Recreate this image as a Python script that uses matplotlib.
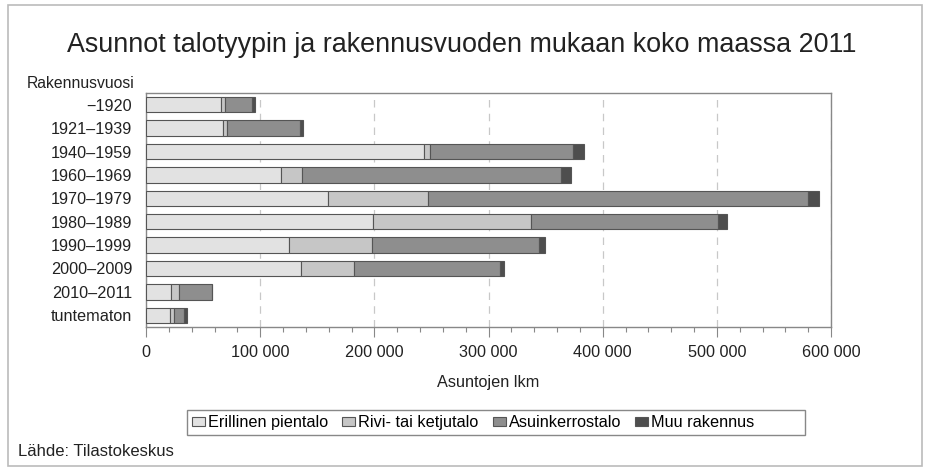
import matplotlib
matplotlib.use("Agg")
import matplotlib.pyplot as plt
from matplotlib import font_manager
from matplotlib.patches import Rectangle
from matplotlib.ticker import MultipleLocator, FuncFormatter

categories = ["\u22121920", "1921\u20131939", "1940\u20131959", "1960\u20131969", "1970\u20131979",
              "1980\u20131989", "1990\u20131999", "2000\u20132009", "2010\u20132011", "tuntematon"]
erillinen = [65500, 67800, 243900, 118100, 159000, 198800, 125100, 136200, 22200, 21300]
rivi = [3800, 2900, 4700, 18700, 88300, 138000, 72500, 46200, 6700, 3500]
asuinkerros = [23400, 63900, 125400, 226800, 332500, 164300, 147000, 128100, 28900, 8500]
muu = [3200, 2900, 9600, 8800, 9900, 8200, 5300, 2900, 400, 2900]
series_names = ["Erillinen pientalo", "Rivi- tai ketjutalo", "Asuinkerrostalo", "Muu rakennus"]
colors = ["#e2e2e2", "#c6c6c6", "#8e8e8e", "#4e4e4e"]

names = {f.name for f in font_manager.fontManager.ttflist}
narrow = "Liberation Sans Narrow" if "Liberation Sans Narrow" in names else "Liberation Sans"
regular = "Liberation Sans"
plt.rcParams["font.family"] = [narrow, "DejaVu Sans"]

W, H = 927, 468
fig = plt.figure(figsize=(W / 100, H / 100), dpi=100)

def fx(px):
    return px / W

def fy(py):
    return 1 - py / H

ax = fig.add_axes([fx(146), fy(327), fx(831) - fx(146), fy(93) - fy(327)])

series = [erillinen, rivi, asuinkerros, muu]
ypos = list(range(len(categories)))
left = [0] * len(categories)
for vals, name, col in zip(series, series_names, colors):
    ax.barh(ypos, vals, left=left, height=0.66, color=col, edgecolor="#555555",
            linewidth=0.8, label=name, zorder=3)
    left = [a + b for a, b in zip(left, vals)]

fs = 11.7
ax.set_xlim(0, 600000)
ax.set_ylim(len(categories) - 0.5, -0.5)
ax.set_yticks(ypos)
ax.set_yticklabels(categories, fontsize=fs, color="#222222")
ax.tick_params(axis="y", length=0, pad=10)
ax.xaxis.set_major_locator(MultipleLocator(100000))
ax.xaxis.set_minor_locator(MultipleLocator(20000))
ax.xaxis.set_major_formatter(FuncFormatter(lambda v, p: f"{int(v):,}".replace(",", " ")))
ax.tick_params(axis="x", which="major", length=7, width=0.8, color="#888888",
               labelsize=fs, labelcolor="#222222", pad=6)
ax.tick_params(axis="x", which="minor", length=3.5, width=0.8, color="#888888")
ax.grid(axis="x", which="major", linestyle=(0, (6, 5)), color="#c8c8c8", linewidth=0.9, zorder=0)
for s in ax.spines.values():
    s.set_color("#888888")
    s.set_linewidth(1.0)

fig.text(fx(462), fy(45), "Asunnot talotyypin ja rakennusvuoden mukaan koko maassa 2011",
         ha="center", va="center", fontsize=19.4, color="#222222", family=[regular, "DejaVu Sans"])
fig.text(fx(135), fy(83), "Rakennusvuosi", ha="right", va="center", fontsize=11.3, color="#222222",
         family=[regular, "DejaVu Sans"])
fig.text(fx(488), fy(383), "Asuntojen lkm", ha="center", va="center", fontsize=fs, color="#222222")
fig.text(fx(18), fy(452), "L\u00e4hde: Tilastokeskus", ha="left", va="center", fontsize=12,
         color="#222222", family=[regular, "DejaVu Sans"])

leg = fig.legend(loc="center left", bbox_to_anchor=(fx(192), fy(422.5)), ncol=4, fontsize=fs,
                 frameon=False, handlelength=0.8, handleheight=0.5, handletextpad=0.2,
                 columnspacing=0.85, borderpad=0, borderaxespad=0)

fig.patches.append(Rectangle((fx(187), fy(435)), fx(805) - fx(187), fy(410) - fy(435),
                             transform=fig.transFigure, fill=False, edgecolor="#888888",
                             linewidth=1.0))
fig.patches.append(Rectangle((fx(8), fy(466)), fx(922) - fx(8), fy(5) - fy(466),
                             transform=fig.transFigure, fill=False, edgecolor="#bbbbbb",
                             linewidth=1.2))

fig.savefig("out.png", dpi=100)
